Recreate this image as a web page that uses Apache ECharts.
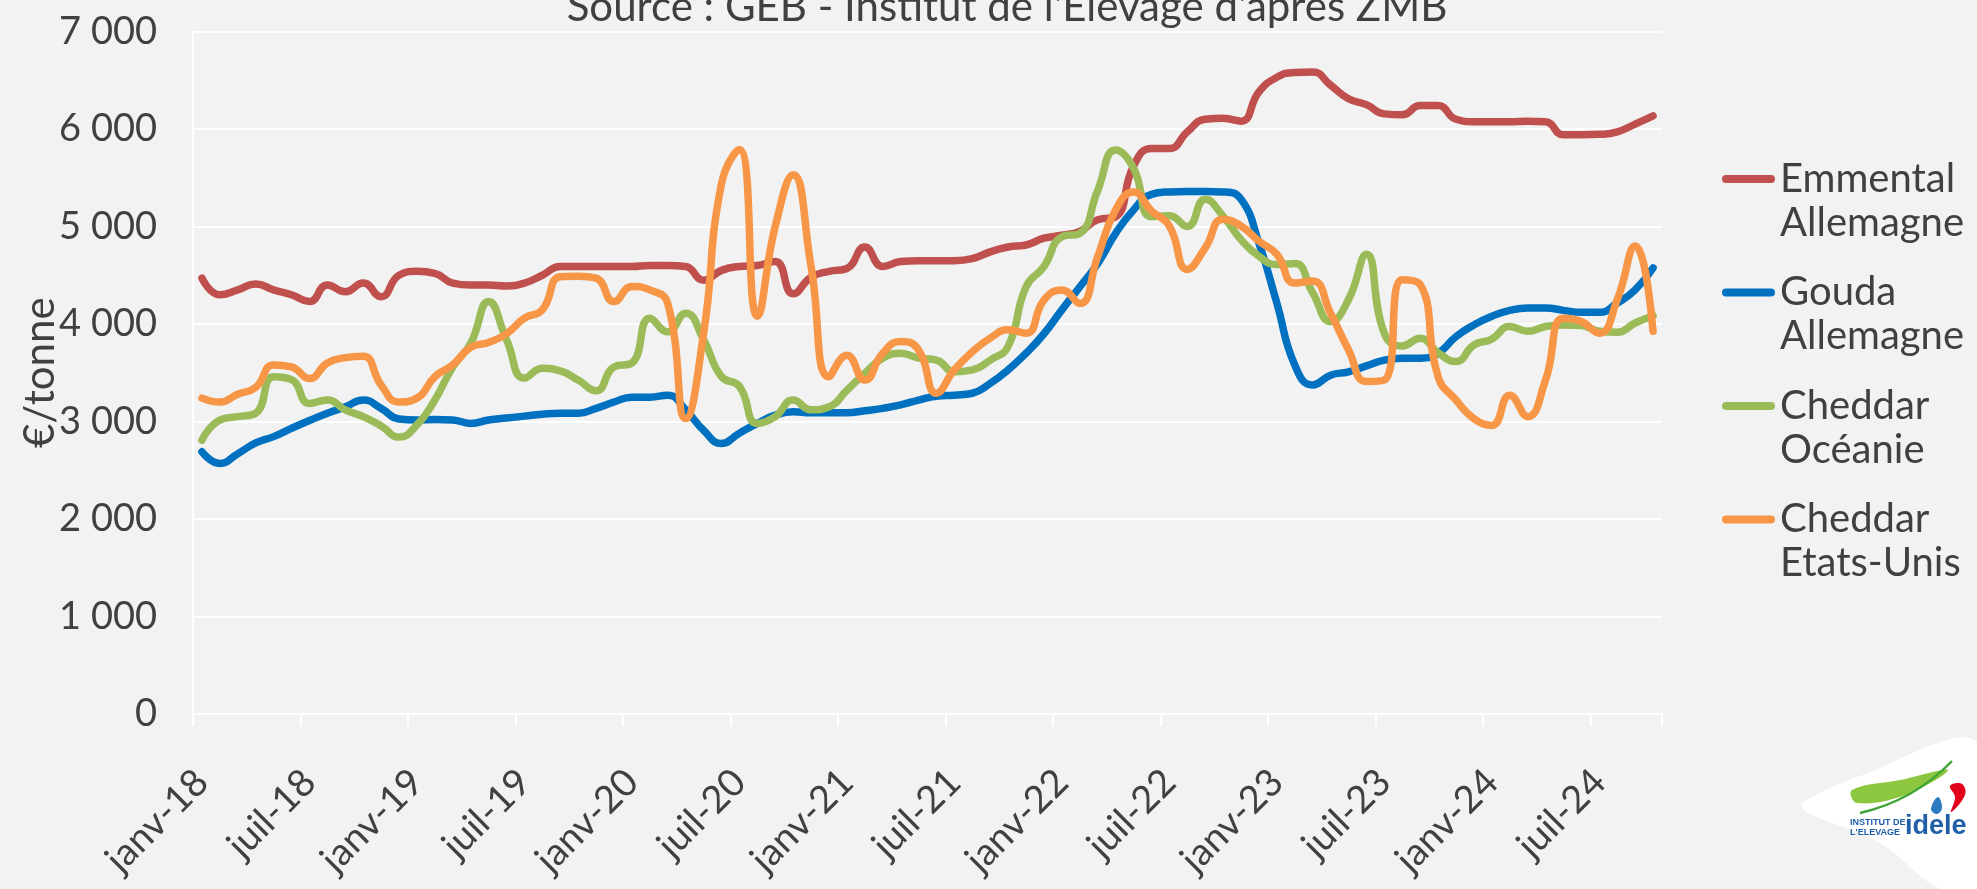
<!DOCTYPE html>
<html>
<head>
<meta charset="utf-8">
<script src="https://cdn.jsdelivr.net/npm/echarts@6/dist/echarts.min.js"></script>
<style>
  html, body { margin: 0; padding: 0; background: #F2F2F2; }
  #chart { width: 1977px; height: 889px; }
</style>
</head>
<body>
<div id="chart"></div>
<script>
// Monthly categories, janv-18 .. oct-24
const MONTHS = ['janv', 'févr', 'mars', 'avr', 'mai', 'juin', 'juil', 'août', 'sept', 'oct', 'nov', 'déc'];
const YEARS = ['18', '19', '20', '21', '22', '23', '24'];
const LAST_LABEL = 'oct-24';

const categories = [];
outer: for (const y of YEARS) {
  for (const m of MONTHS) {
    const label = m + '-' + y;
    categories.push(label);
    if (label === LAST_LABEL) break outer;
  }
}

// Prices in €/tonne
const emmentalAllemagne = [
  4470, 4300, 4350, 4410, 4350, 4300, 4230, 4400, 4330, 4420, 4280, 4500,
  4540, 4520, 4420, 4400, 4400, 4390, 4420, 4500, 4590, 4590, 4590, 4590,
  4590, 4600, 4600, 4590, 4450, 4550, 4590, 4600, 4640, 4310, 4480, 4540,
  4570, 4790, 4590, 4640, 4650, 4650, 4650, 4670, 4740, 4790, 4810, 4880,
  4910, 4950, 5070, 5100, 5620, 5800, 5800, 5970, 6100, 6110, 6080, 6380,
  6530, 6580, 6585, 6450, 6310, 6250, 6155, 6145, 6240, 6240, 6100, 6075,
  6075, 6075, 6080, 6075, 5940, 5940, 5945, 5970, 6050, 6135
];

const goudaAllemagne = [
  2690, 2570, 2670, 2780, 2845, 2930, 3010, 3085, 3150, 3220, 3135, 3025,
  3015, 3020, 3015, 2980, 3015, 3035, 3055, 3075, 3085, 3085, 3135, 3200,
  3250, 3250, 3270, 3120, 2910, 2775, 2880, 2980, 3065, 3100, 3090, 3090,
  3090, 3110, 3135, 3170, 3220, 3260, 3270, 3290, 3390, 3530, 3700, 3900,
  4145, 4380, 4620, 4930, 5170, 5330, 5355, 5360, 5360, 5355, 5280, 4830,
  4215, 3580, 3375, 3475, 3510, 3570, 3630, 3650, 3650, 3700, 3870, 3990,
  4080, 4140, 4165, 4165, 4140, 4120, 4120, 4215, 4350, 4575
];

const cheddarOceanie = [
  2810, 3015, 3050, 3085, 3460, 3430, 3185, 3220, 3120, 3050, 2955, 2840,
  2965, 3220, 3560, 3800, 4230, 3840, 3445, 3545, 3520, 3425, 3315, 3560,
  3600, 4060, 3920, 4110, 3840, 3460, 3360, 2980, 3050, 3220, 3120, 3150,
  3320, 3495, 3650, 3700, 3650, 3630, 3510, 3530, 3630, 3770, 4380, 4590,
  4895, 4930, 5370, 5785, 5600, 5100, 5110, 5000, 5280, 5105, 4865, 4695,
  4610, 4620, 4320, 4025, 4250, 4715, 3905, 3775, 3855, 3705, 3615, 3785,
  3845, 3975, 3925, 3975, 3990, 3985, 3925, 3915, 4010, 4085
];

const cheddarEtatsUnis = [
  3240, 3200, 3280, 3350, 3580, 3560, 3440, 3600, 3655, 3670, 3375, 3200,
  3240, 3460, 3580, 3760, 3810, 3900, 4060, 4145, 4485, 4490, 4470, 4230,
  4385, 4350, 4210, 3030, 3900, 5440, 5790, 4080, 5000, 5530, 4590, 3460,
  3680, 3425, 3700, 3820, 3735, 3290, 3530, 3715, 3855, 3940, 3905, 4245,
  4350, 4210, 4690, 5170, 5355, 5160, 5005, 4560, 4780, 5075, 5005, 4850,
  4715, 4420, 4440, 4110, 3735, 3410, 3425, 4455, 4405, 3460, 3220, 3030,
  2960, 3270, 3050, 3425, 4060, 4025, 3905, 4250, 4800, 3925
];

const SERIES_NAMES = ['Emmental Allemagne', 'Gouda Allemagne', 'Cheddar Océanie', 'Cheddar Etats-Unis'];
const SERIES_COLORS = ['#C0504D', '#0070C0', '#9BBB59', '#F79646'];
const SERIES_DATA = [emmentalAllemagne, goudaAllemagne, cheddarOceanie, cheddarEtatsUnis];

const Y_MIN = 0, Y_MAX = 7000, Y_STEP = 1000;

const FONT = 'Lato, "Noto Sans", sans-serif';
const TEXT_COLOR = '#404040';
const LOGO_FONT = '"Liberation Sans Narrow", "Liberation Sans", sans-serif';

// Legend swatch: a rounded bar in the upper part of a tall box, so it sits beside the first text line
const LEGEND_ICON = 'path://M0,0L0.01,0L0,0.01Z M4,18 L49,18 Q53,18 53,22 Q53,26 49,26 L4,26 Q0,26 0,22 Q0,18 4,18 Z M53,88L52.99,88L53,87.99Z';

const chart = echarts.init(document.getElementById('chart'), null, { renderer: 'canvas' });

chart.setOption({
  animation: false,
  backgroundColor: '#F2F2F2',
  textStyle: { fontFamily: FONT },
  title: {
    text: "Source : GEB - Institut de l'Elevage d'après ZMB",
    left: 1002,
    textAlign: 'center',
    top: -19,
    textStyle: { fontSize: 42, fontWeight: 'normal', color: TEXT_COLOR, fontFamily: FONT }
  },
  grid: {
    left: 193, right: 315, top: 31.5, bottom: 175,
    containLabel: false,
    outerBoundsMode: 'none'
  },
  legend: {
    orient: 'vertical',
    left: 1717,
    top: 152,
    itemWidth: 53,
    itemHeight: 88,
    itemGap: 25.5,
    icon: LEGEND_ICON,
    itemStyle: { borderWidth: 0 },
    formatter: name => name.replace(' ', '\n'),
    textStyle: { fontSize: 40, lineHeight: 44, color: TEXT_COLOR, fontFamily: FONT },
    selectedMode: false
  },
  xAxis: {
    type: 'category',
    data: categories,
    boundaryGap: true,
    axisLine: { show: true, lineStyle: { color: '#FFFFFF', width: 2 } },
    axisTick: { show: true, interval: 5, length: 12, lineStyle: { color: '#FFFFFF', width: 2 } },
    axisLabel: {
      interval: 5,
      rotate: 45,
      margin: 62,
      fontSize: 38,
      color: TEXT_COLOR,
      fontFamily: FONT
    },
    splitLine: { show: false }
  },
  yAxis: {
    type: 'value',
    min: Y_MIN,
    max: Y_MAX,
    interval: Y_STEP,
    name: '€/tonne',
    nameLocation: 'middle',
    nameGap: 132,
    nameMoveOverlap: false,
    nameTextStyle: { fontSize: 42, color: TEXT_COLOR, fontFamily: FONT },
    axisLine: { show: true, lineStyle: { color: '#FFFFFF', width: 2 } },
    axisTick: { show: false },
    axisLabel: {
      margin: 36,
      fontSize: 38,
      color: TEXT_COLOR,
      fontFamily: FONT,
      formatter: v => (v === 0 ? '0' : (v / 1000) + ' 000')
    },
    splitLine: { show: true, lineStyle: { color: '#FFFFFF', width: 2 } }
  },
  series: SERIES_NAMES.map((name, k) => ({
    name,
    type: 'line',
    data: SERIES_DATA[k],
    smooth: 0.5,
    showSymbol: false,
    symbol: 'none',
    color: SERIES_COLORS[k],
    lineStyle: { width: 7.5, color: SERIES_COLORS[k], cap: 'round', join: 'round' },
    z: 2 + k
  })),
  graphic: [
    // idele logo, bottom right
    {
      type: 'polygon', z: 100,
      shape: { points: [[1802, 803], [1860, 776], [1977, 742], [1977, 889], [1940, 889], [1880, 843], [1806, 812]], smooth: 0.35 },
      style: { fill: '#FFFFFF' }
    },
    {
      type: 'polygon', z: 101,
      shape: { points: [[1852, 790], [1900, 780], [1948, 770], [1905, 795], [1857, 803]], smooth: 0.4 },
      style: { fill: '#8DC63F' }
    },
    {
      type: 'bezierCurve', z: 102,
      shape: { x1: 1860, y1: 813, cpx1: 1895, cpy1: 805, cpx2: 1926, cpy2: 788, x2: 1952, y2: 761 },
      style: { fill: null, stroke: '#3FA535', lineWidth: 2.5 }
    },
    {
      type: 'polygon', z: 101,
      shape: { points: [[1950, 786], [1962, 784], [1965, 795], [1951, 812], [1955, 797]], smooth: 0.4 },
      style: { fill: '#E2001A' }
    },
    {
      type: 'polygon', z: 101,
      shape: { points: [[1938, 797], [1942, 808], [1937, 814], [1931, 809]], smooth: 0.4 },
      style: { fill: '#2A7BC0' }
    },
    {
      type: 'text', z: 103, left: 1850, top: 818,
      style: { text: 'INSTITUT DE', fill: '#1F5FA8', font: 'bold 9px ' + LOGO_FONT }
    },
    {
      type: 'text', z: 103, left: 1850, top: 828,
      style: { text: "L'ELEVAGE", fill: '#1F5FA8', font: 'bold 9px ' + LOGO_FONT }
    },
    {
      type: 'text', z: 103, left: 1905, top: 813,
      style: { text: 'idele', fill: '#1F5FA8', font: 'bold 27px ' + LOGO_FONT }
    }
  ]
});
</script>
</body>
</html>
